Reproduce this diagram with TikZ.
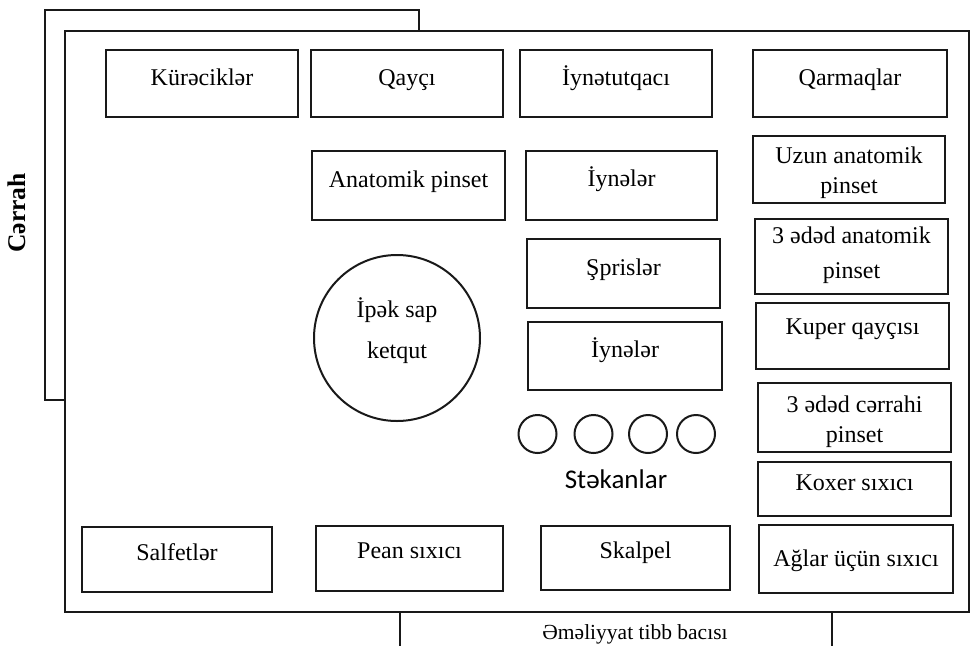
\documentclass[tikz,border=0pt]{standalone}
\usepackage{fontspec}
\setmainfont{Liberation Serif}
\newfontfamily\calibfont{Carlito}
\begin{document}
\begin{tikzpicture}[x=1pt,y=-1pt,
  frame/.style={draw=black!90,line width=2.2pt},
  box/.style={draw=black!90,line width=2.2pt,inner sep=0pt,minimum width=192pt,minimum height=67pt},
  lbl/.style={font=\fontsize{24}{31}\selectfont,inner sep=0pt,align=center,anchor=base,text=black},
  cup/.style={draw=black!90,line width=2pt,circle,inner sep=0pt,minimum size=38pt},
]
\useasboundingbox (0,0) rectangle (972,646);
% back frame (surgeon side)
\draw[frame] (45,10) rectangle (419,400);
% nurse side frame below
\draw[frame] (400,600) -- (400,646);
\draw[frame] (832,600) -- (832,646);
% main table
\draw[frame,fill=white] (65,31) rectangle (969,612);
\node[font=\bfseries\fontsize{25.5}{30}\selectfont,rotate=90,anchor=base,inner sep=0pt] (cerrah) at (25,213) {Cərrah};
\node[font=\fontsize{21.5}{26}\selectfont,anchor=base,inner sep=0pt] (nurse) at (635,639) {Əməliyyat tibb bacısı};
% row 1
\node[box] (kur) at (202,83.5) {};
\node[lbl] (kurt) at (202,85) {Kürəciklər};
\node[box] (qay) at (407,83.5) {};
\node[lbl] (qayt) at (407,85) {Qayçı};
\node[box] (iyt) at (616,83.5) {};
\node[lbl] (iytt) at (616,85) {İynətutqacı};
\node[box,minimum width=194pt] (qar) at (850,83.5) {};
\node[lbl] (qart) at (850,85) {Qarmaqlar};
% middle column boxes
\node[box,minimum width=193pt,minimum height=69pt] (anp) at (408.5,185.5) {};
\node[lbl] (anpt) at (408.5,187) {Anatomik pinset};
\node[box,minimum width=191pt,minimum height=69pt] (iy1) at (621.5,185.5) {};
\node[lbl] (iy1t) at (621.5,186) {İynələr};
\node[box,minimum width=193pt,minimum height=69pt] (spr) at (623.5,273.5) {};
\node[lbl] (sprt) at (623.5,275) {Şprislər};
\node[box,minimum width=194pt,minimum height=68pt] (iy2) at (625,356) {};
\node[lbl] (iy2t) at (625,357) {İynələr};
% thread circle
\node[draw=black!90,line width=2pt,circle,inner sep=0pt,minimum size=166pt] (ipek) at (397,338) {};
\node[lbl,font=\fontsize{24}{41}\selectfont] (ipekt) at (397,358) {İpək sap\\ketqut};
% cups
\node[cup] (c1) at (537.5,434) {};
\node[cup] (c2) at (593.5,434) {};
\node[cup] (c3) at (648,434) {};
\node[cup] (c4) at (696,434) {};
\node[font=\calibfont\fontsize{27}{32}\selectfont,anchor=base,inner sep=0pt] (stak) at (616,488) {Stəkanlar};
% right column
\node[box] (uzn) at (849,169.5) {};
\node[lbl,font=\fontsize{24}{30}\selectfont] (uznt) at (849,193) {Uzun anatomik\\pinset};
\node[box,minimum width=193pt,minimum height=75pt] (an3) at (851.5,256.5) {};
\node[lbl,font=\fontsize{24}{35}\selectfont] (an3t) at (851.5,278) {3 ədəd anatomik\\pinset};
\node[box,minimum width=193pt,minimum height=66pt] (kup) at (852.5,336) {};
\node[lbl] (kupt) at (852.5,334) {Kuper qayçısı};
\node[box,minimum width=193pt,minimum height=69pt] (ce3) at (854.5,417.5) {};
\node[lbl,font=\fontsize{24}{30}\selectfont] (ce3t) at (854.5,442) {3 ədəd cərrahi\\pinset};
\node[box,minimum width=193pt,minimum height=54pt] (kox) at (854.5,489) {};
\node[lbl] (koxt) at (854.5,490) {Koxer sıxıcı};
\node[box,minimum width=194pt,minimum height=68pt] (agl) at (856,559) {};
\node[lbl] (aglt) at (856,566) {Ağlar üçün sıxıcı};
% bottom row
\node[box,minimum width=190pt,minimum height=65pt] (sal) at (177,559.5) {};
\node[lbl] (salt) at (177,560) {Salfetlər};
\node[box,minimum width=187pt,minimum height=65pt] (pea) at (409.5,558.5) {};
\node[lbl] (peat) at (409.5,558) {Pean sıxıcı};
\node[box,minimum width=189pt,minimum height=64pt] (ska) at (635.5,558) {};
\node[lbl] (skat) at (635.5,558) {Skalpel};
\end{tikzpicture}
\end{document}
